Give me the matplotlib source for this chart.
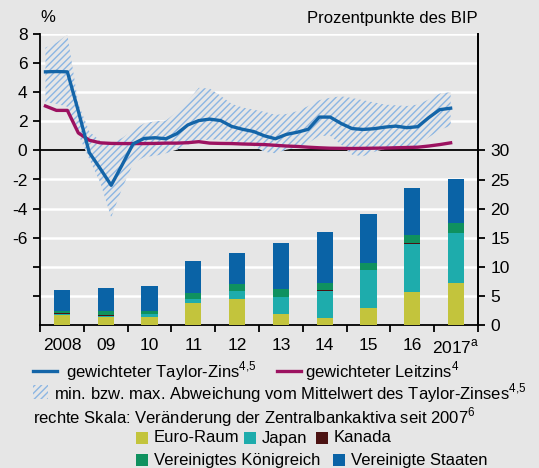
import matplotlib
matplotlib.use('Agg')
import matplotlib.pyplot as plt
import numpy as np
from matplotlib.patches import Rectangle
from matplotlib.lines import Line2D

plt.rcParams['font.family'] = ['Liberation Sans', 'DejaVu Sans']
plt.rcParams['font.size'] = 12.5
plt.rcParams['axes.unicode_minus'] = False
plt.rcParams['mathtext.fontset'] = 'custom'
plt.rcParams['mathtext.rm'] = 'Liberation Sans'
plt.rcParams['hatch.linewidth'] = 1.0

# quarterly lines, 2008Q1 .. 2017Q2 (left scale, %)
taylor = [5.4, 5.42, 5.4, 2.7, -0.15, -1.25, -2.4, -1.0, 0.45, 0.82, 0.87, 0.8,
          1.15, 1.75, 2.05, 2.15, 2.05, 1.65, 1.45, 1.3, 1.0, 0.8, 1.1, 1.25,
          1.45, 2.29, 2.29, 1.85, 1.5, 1.44, 1.49, 1.6, 1.67, 1.56, 1.63, 2.25,
          2.8, 2.9]
leitzins = [3.05, 2.75, 2.75, 1.2, 0.7, 0.52, 0.48, 0.47, 0.47, 0.47, 0.48, 0.5,
            0.5, 0.53, 0.6, 0.5, 0.48, 0.47, 0.44, 0.42, 0.4, 0.35, 0.3, 0.27,
            0.22, 0.18, 0.15, 0.14, 0.13, 0.14, 0.15, 0.16, 0.18, 0.2, 0.22, 0.3,
            0.4, 0.52]
band_hi = [7.06, 7.4, 7.95, 3.2, 1.3, 0.65, 0.5, 0.85, 1.4, 1.85, 2.0, 2.05,
           2.65, 3.4, 4.3, 4.25, 3.75, 3.2, 2.95, 2.8, 2.65, 2.45, 2.5, 2.7,
           3.05, 3.45, 3.62, 3.72, 3.6, 3.45, 3.3, 3.15, 3.1, 3.05, 3.15, 3.5,
           3.9, 4.0]
band_lo = [3.3, 3.2, 3.0, 1.1, -0.6, -2.2, -4.6, -2.6, -0.9, -0.45, -0.38, -0.2,
           0.05, 0.4, 0.65, 0.75, 0.75, 0.6, 0.4, 0.3, -0.1, -0.2, 0.05, 0.2,
           0.5, 1.0, 1.0, 0.4, -0.3, -0.4, -0.1, 0.1, 0.2, 0.2, 0.3, 0.9,
           1.4, 1.7]

# yearly bars (right scale, percentage points of GDP)
years = [2008, 2009, 2010, 2011, 2012, 2013, 2014, 2015, 2016, 2017]
year_labels = ['2008', '09', '10', '11', '12', '13', '14', '15', '16',
               '2017$^{\\mathrm{a}}$']
euro = [1.66, 1.32, 1.32, 3.86, 4.55, 1.96, 1.26, 3.0, 5.6, 7.15]
japan = [0.15, 0.29, 0.5, 0.69, 1.22, 2.77, 4.51, 6.4, 8.3, 8.65]
kanada = [0.2, 0.05, 0.1, 0.0, 0.0, 0.0, 0.22, 0.0, 0.2, 0.0]
uk = [0.45, 0.69, 0.46, 0.87, 1.21, 1.38, 1.16, 1.2, 1.36, 1.74]
us = [3.6, 3.98, 4.25, 5.54, 5.36, 7.96, 8.83, 8.5, 8.14, 7.61]

bg = '#e6e6e6'
c_taylor = '#1465a8'
c_leit = '#9c1260'
c_hatch = '#8cb6e3'
bar_cols = ['#c3c43c', '#1eacac', '#4b1212', '#0f915f', '#0a63a6']

W, H = 539, 468
fig = plt.figure(figsize=(W / 100, H / 100), dpi=100, facecolor=bg)
ax = fig.add_axes([40 / W, 1 - 325 / H, 438 / W, 291 / H])
ax.set_facecolor(bg)

t = 2008 + (np.arange(len(taylor)) + 0.5) / 4

ax.set_xlim(2008, 2018)
ax.set_ylim(-12, 8)
for yv in [8, 6, 4, 2, -2, -4, -6, -8, -10]:
    ax.axhline(yv, color='white', lw=1.8, zorder=0.5)
ax.axhline(0, color='black', lw=1.3, zorder=1)

ax.fill_between(t, band_lo, band_hi, facecolor=bg, edgecolor=c_hatch,
                hatch='/////', linewidth=0, zorder=2)
ax.plot(t, leitzins, color=c_leit, lw=2.4, zorder=3)
ax.plot(t, taylor, color=c_taylor, lw=2.4, zorder=4)

ax.set_yticks([8, 6, 4, 2, 0, -2, -4, -6, -8, -10])
ax.set_yticklabels(['8', '6', '4', '2', '0', '-2', '-4', '-6', '', ''])
ax.set_xticks(range(2008, 2019))
ax.set_xticklabels([])
ax.set_xticks([y + 0.5 for y in years], minor=True)
ax.set_xticklabels(year_labels, minor=True)
ax.tick_params(axis='x', which='major', length=5, width=1.3, direction='out')
ax.tick_params(axis='x', which='minor', length=0, pad=9)
ax.tick_params(axis='y', length=5, width=1.3, pad=4)
ax.spines['top'].set_visible(False)
for s in ['left', 'bottom', 'right']:
    ax.spines[s].set_linewidth(1.3)

ax2 = ax.twinx()
ax2.set_ylim(0, 50)
ax2.set_yticks(range(0, 31, 5))
ax2.tick_params(axis='y', length=5, width=1.3, pad=4)
ax2.spines['top'].set_visible(False)
ax2.spines['left'].set_visible(False)
ax2.spines['bottom'].set_visible(False)
ax2.spines['right'].set_linewidth(1.3)

xb = np.array(years) + 0.5
bottom = np.zeros(len(years))
for vals, col in zip([euro, japan, kanada, uk, us], bar_cols):
    ax2.bar(xb, vals, width=0.37, bottom=bottom, color=col, linewidth=0, zorder=2)
    bottom += np.array(vals)

fs = 12
fig.text(40 / W, 1 - 18 / H, '%', ha='left', va='center', fontsize=fs)
fig.text(478 / W, 1 - 18 / H, 'Prozentpunkte des BIP', ha='right', va='center',
         fontsize=fs)

# legend, drawn by hand
def fx(x):
    return x / W

def fy(y):
    return 1 - y / H

fig.add_artist(Line2D([fx(33), fx(57)], [fy(371), fy(371)], color=c_taylor,
                      lw=2.4, transform=fig.transFigure))
fig.text(fx(66), fy(371), 'gewichteter Taylor-Zins$^{4{,}5}$', va='center',
         fontsize=fs)
fig.add_artist(Line2D([fx(277), fx(301)], [fy(371), fy(371)], color=c_leit,
                      lw=2.4, transform=fig.transFigure))
fig.text(fx(305), fy(371), 'gewichteter Leitzins$^{4}$', va='center', fontsize=fs)

fig.add_artist(Rectangle((fx(33), fy(399)), 15 / W, 14 / H, facecolor=bg,
                         edgecolor=c_hatch, hatch='/////', linewidth=0,
                         transform=fig.transFigure))
fig.text(fx(54), fy(393),
         'min. bzw. max. Abweichung vom Mittelwert des Taylor-Zinses$^{4{,}5}$',
         va='center', fontsize=fs)
fig.text(fx(33), fy(417),
         'rechte Skala: Veränderung der Zentralbankaktiva seit 2007$^{6}$',
         va='center', fontsize=fs)

items = [('Euro-Raum', 136, 438), ('Japan', 244, 438), ('Kanada', 315.5, 438),
         ('Vereinigtes Königreich', 136, 460), ('Vereinigte Staaten', 333, 460)]
for (lab, x0, y0), col in zip(items, bar_cols[:3] + bar_cols[3:]):
    fig.add_artist(Rectangle((fx(x0), fy(y0 + 6)), 12 / W, 12 / H, facecolor=col,
                             linewidth=0, transform=fig.transFigure))
    fig.text(fx(x0 + 18), fy(y0), lab, va='center', fontsize=fs)

fig.savefig('out.png', dpi=100, facecolor=bg)
